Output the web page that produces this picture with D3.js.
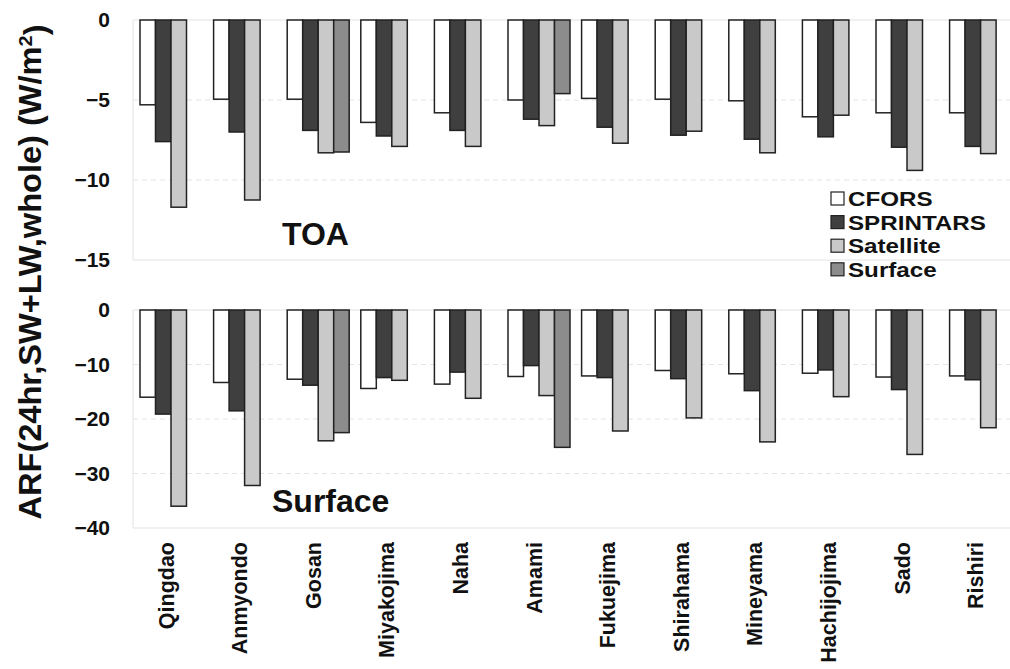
<!DOCTYPE html>
<html>
<head>
<meta charset="utf-8">
<script src="https://cdn.jsdelivr.net/npm/d3@7"></script>
<style>
  body { margin: 0; background: #fff; }
  svg { display: block; font-family: "Liberation Sans", Arial, sans-serif; font-weight: bold; }
</style>
</head>
<body>
<div id="chart"></div>
<script>
// Stations along the x axis
var stations = ["Qingdao", "Anmyondo", "Gosan", "Miyakojima", "Naha", "Amami",
  "Fukuejima", "Shirahama", "Mineyama", "Hachijojima", "Sado", "Rishiri"];
var seriesNames = ["CFORS", "SPRINTARS", "Satellite", "Surface"];

// TOA forcing (W/m2)
var toaCfors     = [-5.3, -4.95, -4.95, -6.4, -5.8, -5.0, -4.9, -4.95, -5.05, -6.05, -5.8, -5.8];
var toaSprintars = [-7.6, -7.0, -6.9, -7.25, -6.9, -6.2, -6.7, -7.2, -7.45, -7.3, -7.95, -7.9];
var toaSatellite = [-11.7, -11.25, -8.3, -7.9, -7.9, -6.6, -7.7, -6.95, -8.3, -5.95, -9.4, -8.35];
var toaSurface   = [null, null, -8.25, null, null, -4.6, null, null, null, null, null, null];

// Surface forcing (W/m2)
var sfcCfors     = [-16.0, -13.3, -12.7, -14.4, -13.6, -12.2, -12.1, -11.1, -11.7, -11.6, -12.3, -12.1];
var sfcSprintars = [-19.1, -18.5, -13.8, -12.4, -11.4, -10.2, -12.4, -12.6, -14.8, -11.0, -14.6, -12.8];
var sfcSatellite = [-36.0, -32.2, -24.0, -12.9, -16.2, -15.7, -22.2, -19.8, -24.2, -15.9, -26.5, -21.6];
var sfcSurface   = [null, null, -22.5, null, null, -25.2, null, null, null, null, null, null];

var toaTicks = [0, -5, -10, -15];
var sfcTicks = [0, -10, -20, -30, -40];

var fills = ["#ffffff", "#3f3f3f", "#c9c9c9", "#8c8c8c"];

var svgWidth = 1010;
var svgHeight = 669;
var plotLeft = 133;

var svg = d3.select("#chart").append("svg")
  .attr("width", svgWidth)
  .attr("height", svgHeight);

// one band per station, four slots inside it
var x = d3.scaleBand().domain(stations).range([134.2, 134.2 + 12 * 73.6]);
var xInner = d3.scaleBand().domain(seriesNames).range([5.8, 73.6 - 5.8]);

var panels = [
  { name: "TOA", y: d3.scaleLinear().domain([-15, 0]).range([260, 20]), ticks: toaTicks,
    data: [toaCfors, toaSprintars, toaSatellite, toaSurface], labelX: 282, labelY: 245 },
  { name: "Surface", y: d3.scaleLinear().domain([-40, 0]).range([528, 310]), ticks: sfcTicks,
    data: [sfcCfors, sfcSprintars, sfcSatellite, sfcSurface], labelX: 272, labelY: 512 }
];

panels.forEach(function(p) {
  var g = svg.append("g");
  var yMin = p.y.domain()[0];

  // faint dashed gridlines
  g.selectAll(".grid").data(p.ticks.filter(function(t) { return t !== 0 && t !== yMin; }))
    .enter().append("line")
    .attr("x1", plotLeft).attr("x2", svgWidth)
    .attr("y1", function(d) { return p.y(d); })
    .attr("y2", function(d) { return p.y(d); })
    .attr("stroke", "#e4e4e4").attr("stroke-dasharray", "5,4");

  // frame lines
  g.append("line").attr("x1", plotLeft).attr("x2", svgWidth)
    .attr("y1", p.y(0)).attr("y2", p.y(0)).attr("stroke", "#e2e2e2");
  g.append("line").attr("x1", plotLeft).attr("x2", svgWidth)
    .attr("y1", p.y(yMin)).attr("y2", p.y(yMin)).attr("stroke", "#e2e2e2");
  g.append("line").attr("x1", plotLeft).attr("x2", plotLeft)
    .attr("y1", p.y(0)).attr("y2", p.y(yMin)).attr("stroke", "#e2e2e2");

  // y axis labels
  var axis = d3.axisLeft(p.y).tickValues(p.ticks).tickSize(0).tickPadding(23);
  var ax = g.append("g").attr("transform", "translate(" + plotLeft + ",0)").call(axis);
  ax.select(".domain").remove();
  ax.selectAll("text")
    .attr("font-size", 21).attr("font-weight", "bold")
    .attr("font-family", "'Liberation Sans', Arial, sans-serif")
    .attr("fill", "#111");

  // bars
  p.data.forEach(function(vals, si) {
    g.selectAll(".bar" + si)
      .data(vals.map(function(v, i) { return { st: stations[i], v: v }; })
        .filter(function(d) { return d.v !== null; }))
      .enter().append("rect")
      .attr("x", function(d) { return x(d.st) + xInner(seriesNames[si]); })
      .attr("y", p.y(0))
      .attr("width", xInner.bandwidth())
      .attr("height", function(d) { return p.y(d.v) - p.y(0); })
      .attr("fill", fills[si])
      .attr("stroke", "#222")
      .attr("stroke-width", 1.5);
  });

  g.append("text")
    .attr("x", p.labelX).attr("y", p.labelY)
    .attr("font-size", 32)
    .attr("fill", "#111")
    .text(p.name);
});

// legend (text stretched sideways like the original)
var legend = svg.append("g").attr("transform", "translate(831,206)");
seriesNames.forEach(function(name, i) {
  var row = legend.append("g").attr("transform", "translate(0," + (i * 23.6) + ")");
  row.append("rect").attr("x", 0).attr("y", -14).attr("width", 13).attr("height", 13)
    .attr("fill", fills[i]).attr("stroke", "#222").attr("stroke-width", 1.2);
  row.append("text").attr("transform", "translate(17,0) scale(1.18,1)")
    .attr("font-size", 20.5).attr("fill", "#111").text(name);
});

// station labels, rotated
svg.selectAll(".xlabel").data(stations).enter().append("text")
  .attr("transform", function(d) {
    return "translate(" + (x(d) + x.bandwidth() / 2) + ",542) rotate(-90)";
  })
  .attr("text-anchor", "end")
  .attr("dy", "0.12em")
  .attr("font-size", 21.5)
  .attr("fill", "#111")
  .text(function(d) { return d; });

// y axis title
var title = svg.append("text")
  .attr("transform", "translate(41,272) rotate(-90)")
  .attr("text-anchor", "middle")
  .attr("font-size", 31)
  .attr("fill", "#111")
  .attr("textLength", 495)
  .attr("lengthAdjust", "spacingAndGlyphs");
title.append("tspan").text("ARF(24hr,SW+LW,whole) (W/m");
title.append("tspan").attr("dy", "-0.45em").attr("font-size", 19).text("2");
title.append("tspan").attr("dy", "0.45em").text(")");
</script>
</body>
</html>
